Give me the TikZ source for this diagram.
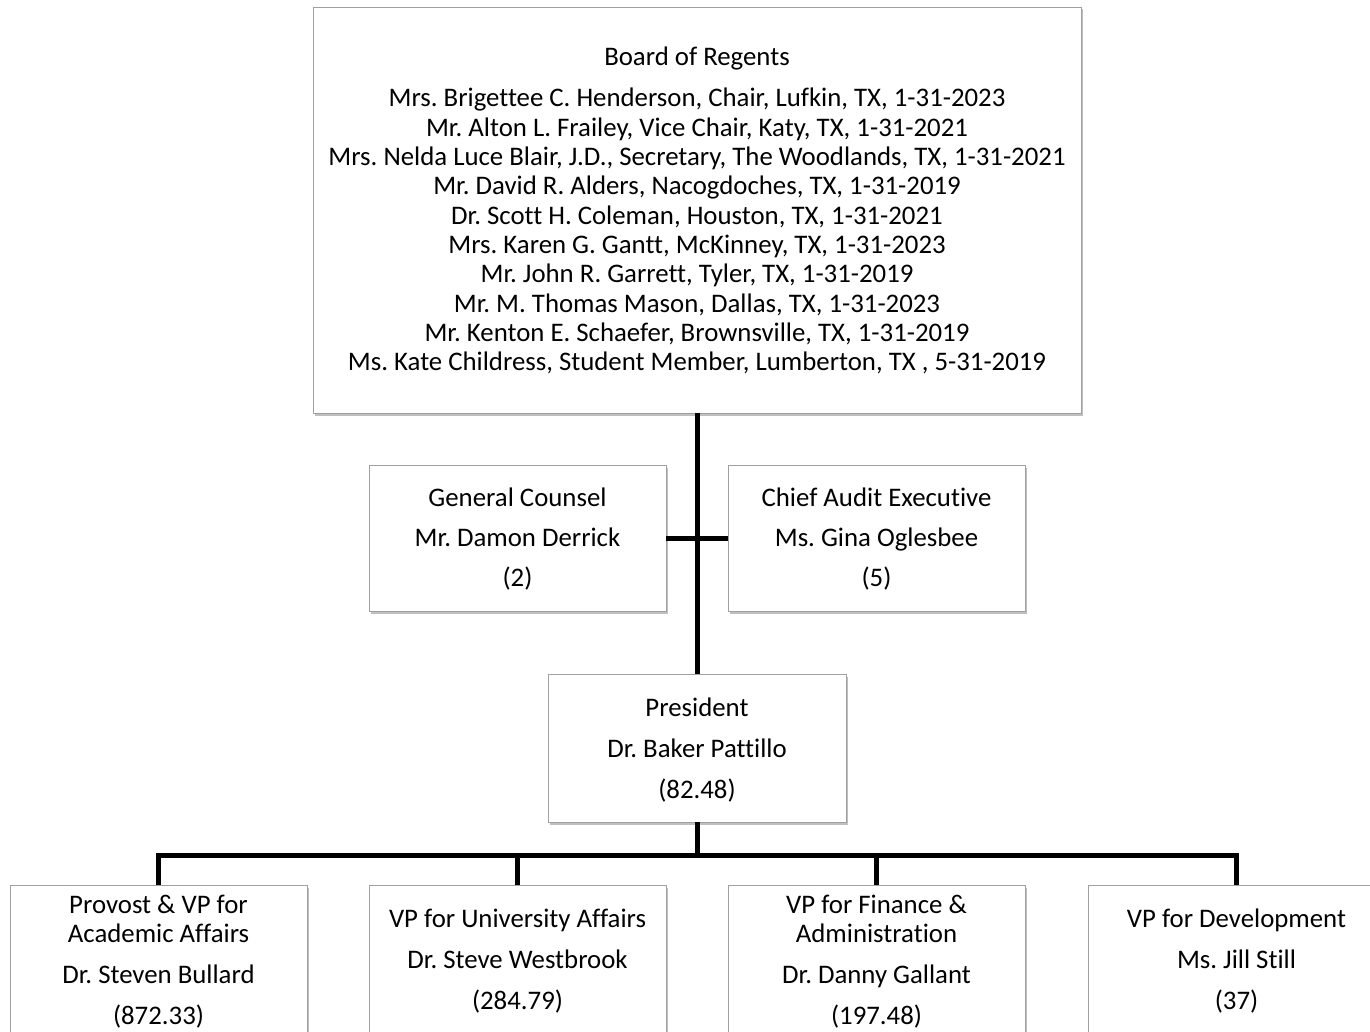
\documentclass[tikz,border=0pt]{standalone}
\usepackage{fontspec}
\setmainfont[Ligatures={NoCommon}]{Carlito}
\usetikzlibrary{shadows}
\definecolor{boxgray}{RGB}{160,160,160}
\frenchspacing
\begin{document}
\begin{tikzpicture}[x=1pt,y=-1pt,
  box/.style={draw=boxgray, line width=0.9pt, fill=white, rectangle, inner sep=0pt,
    drop shadow={shadow xshift=1.5pt, shadow yshift=-2.5pt, fill=black, opacity=0.25}},
  txt/.style={font=\fontsize{26.8}{32}\selectfont, anchor=base, inner sep=0pt},
  conn/.style={line width=5pt}]
\useasboundingbox (0,0) rectangle (1370,1032);
\fill[white] (0,0) rectangle (1370,1032);

% boxes
\node[box, minimum width=768pt, minimum height=406pt] (board) at (697,210) {};
\node[box, minimum width=297pt, minimum height=146pt] (gc) at (517.5,538) {};
\node[box, minimum width=297pt, minimum height=146pt] (cae) at (876.5,538) {};
\node[box, minimum width=298pt, minimum height=148pt] (pres) at (697,748) {};
\node[box, minimum width=297pt, minimum height=160pt] (prov) at (158.5,965) {};
\node[box, minimum width=297pt, minimum height=160pt] (vpu) at (517.5,965) {};
\node[box, minimum width=297pt, minimum height=160pt] (vpf) at (876.5,965) {};
\node[box, minimum width=297pt, minimum height=160pt] (vpd) at (1236.5,965) {};

% connectors
\coordinate (bus) at (697,855);
\draw[conn] (board.south) -- (pres.north);
\draw[conn] (gc.east) -- (cae.west);
\draw[conn] (pres.south) -- (bus);
\draw[conn, line join=miter] (prov.north) |- (bus) -| (vpd.north);
\draw[conn] (vpu.north) -- (vpu.north |- bus);
\draw[conn] (vpf.north) -- (vpf.north |- bus);

% board text
\node[txt] (bt0) at (697,66) {Board of Regents};
\foreach \t [count=\i from 0] in {
  {Mrs. Brigettee C. Henderson, Chair, Lufkin, TX, 1-31-2023},
  {Mr. Alton L. Frailey, Vice Chair, Katy, TX, 1-31-2021},
  {Mrs. Nelda Luce Blair, J.D., Secretary, The Woodlands, TX, 1-31-2021},
  {Mr. David R. Alders, Nacogdoches, TX, 1-31-2019},
  {Dr. Scott H. Coleman, Houston, TX, 1-31-2021},
  {Mrs. Karen G. Gantt, McKinney, TX, 1-31-2023},
  {Mr. John R. Garrett, Tyler, TX, 1-31-2019},
  {Mr. M. Thomas Mason, Dallas, TX, 1-31-2023},
  {Mr. Kenton E. Schaefer, Brownsville, TX, 1-31-2019},
  {Ms. Kate Childress, Student Member, Lumberton, TX , 5-31-2019}}
  { \node[txt] (bl\i) at (697,{107+29.3*\i}) {\t}; }

% general counsel
\node[txt] (gc1) at (517.5,506) {General Counsel};
\node[txt] (gc2) at (517.5,546) {Mr. Damon Derrick};
\node[txt] (gc3) at (517.5,586) {(2)};
% chief audit
\node[txt] (ca1) at (876.5,506) {Chief Audit Executive};
\node[txt] (ca2) at (876.5,546) {Ms. Gina Oglesbee};
\node[txt] (ca3) at (876.5,586) {(5)};
% president
\node[txt] (p1) at (697,716) {President};
\node[txt] (p2) at (697,757) {Dr. Baker Pattillo};
\node[txt] (p3) at (697,798) {(82.48)};
% provost
\node[txt] (pv1) at (158.5,913) {Provost \& VP for};
\node[txt] (pv2) at (158.5,942) {Academic Affairs};
\node[txt] (pv3) at (158.5,983) {Dr. Steven Bullard};
\node[txt] (pv4) at (158.5,1024) {(872.33)};
% vp university affairs
\node[txt] (u1) at (517.5,927) {VP for University Affairs};
\node[txt] (u2) at (517.5,968) {Dr. Steve Westbrook};
\node[txt] (u3) at (517.5,1009) {(284.79)};
% vp finance
\node[txt] (f1) at (876.5,913) {VP for Finance \&};
\node[txt] (f2) at (876.5,942) {Administration};
\node[txt] (f3) at (876.5,983) {Dr. Danny Gallant};
\node[txt] (f4) at (876.5,1024) {(197.48)};
% vp development
\node[txt] (d1) at (1236.5,927) {VP for Development};
\node[txt] (d2) at (1236.5,968) {Ms. Jill Still};
\node[txt] (d3) at (1236.5,1009) {(37)};
\end{tikzpicture}
\end{document}
